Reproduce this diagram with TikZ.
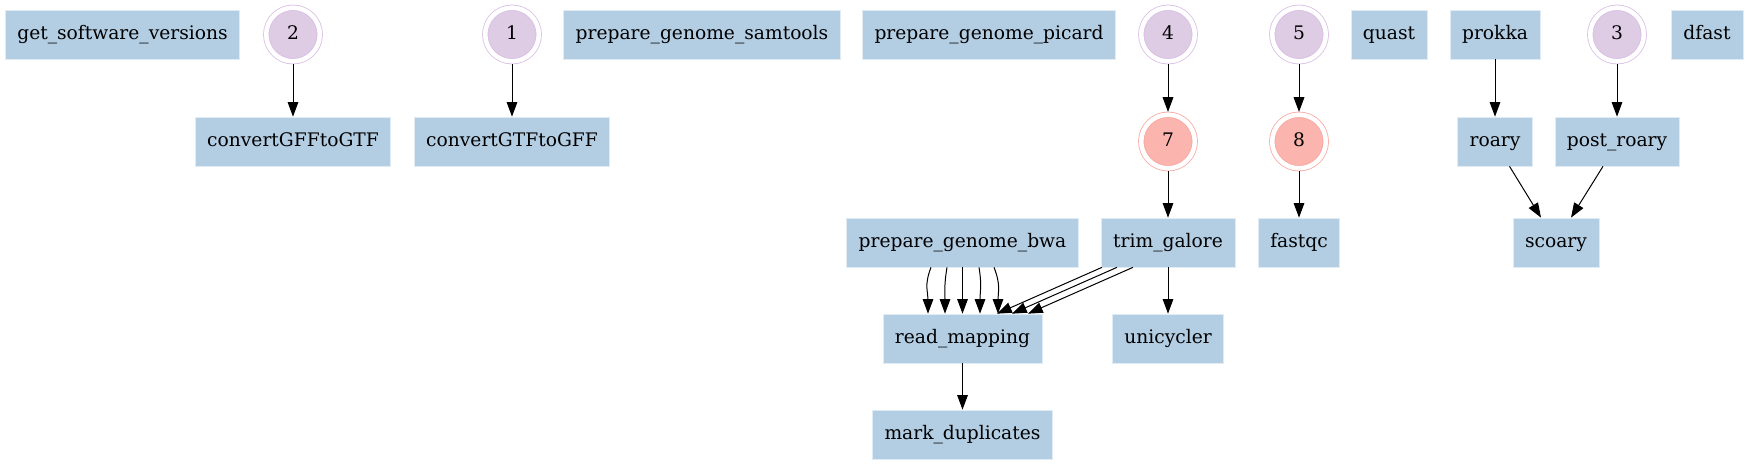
\documentclass[tikz,border=0pt]{standalone}
\usepackage{fontspec}
\setmainfont{DejaVu Serif}
\usetikzlibrary{arrows.meta,calc}
\definecolor{procfill}{HTML}{B3CDE3}
\definecolor{chanfill}{HTML}{DECBE4}
\definecolor{chanline}{HTML}{DABDE4}
\definecolor{resfill}{HTML}{FBB4AE}
\definecolor{resline}{HTML}{F8A9A1}

\begin{document}
\begin{tikzpicture}[x=0.75pt, y=-0.75pt, font=\fontsize{14}{16}\selectfont,
          proc/.style={draw=procfill!40!white, line width=0.5pt, fill=procfill,
                       minimum height=36.75pt, minimum width=54pt,
                       inner xsep=9pt, inner ysep=0pt, text height=11pt, text depth=2.8pt},
          chan/.style={circle, fill=chanfill, draw=chanline, double=white,
                       double distance=3.4pt, line width=0.6pt, text height=11pt, text depth=2.8pt,
                       minimum size=40.2pt, inner sep=0pt, outer sep=2.1pt},
          result/.style={chan, fill=resfill, draw=resline},
          arr/.style={-{Triangle[length=11pt, width=8pt]}, line width=0.75pt}]
        \useasboundingbox (0,0) rectangle (1748,464);
        % top row: processes and input channels
        \node[proc] (versions) at (122.5,34.5) {get\_software\_versions};
        \node[chan] (c2) at (293,34.5) {2};
        \node[chan] (c1) at (512,34.5) {1};
        \node[proc] (samtools) at (702,34.5) {prepare\_genome\_samtools};
        \node[proc] (picard) at (989,34.5) {prepare\_genome\_picard};
        \node[chan] (c4) at (1168,34.5) {4};
        \node[chan] (c5) at (1299,34.5) {5};
        \node[proc] (quast) at (1389,34.5) {quast};
        \node[proc] (prokka) at (1495,34.5) {prokka};
        \node[chan] (c3) at (1617,34.5) {3};
        \node[proc] (dfast) at (1707,34.5) {dfast};
        % second row
        \node[proc] (gff2gtf) at (293,141.5) {convertGFFtoGTF};
        \node[proc] (gtf2gff) at (512,141.5) {convertGTFtoGFF};
        \node[result] (c7) at (1168,141.5) {7};
        \node[result] (c8) at (1299,141.5) {8};
        \node[proc] (roary) at (1495,141.5) {roary};
        \node[proc] (postroary) at (1617,141.5) {post\_roary};
        % third row
        \node[proc] (bwa) at (962.5,242.5) {prepare\_genome\_bwa};
        \node[proc] (trim) at (1168,242.5) {trim\_galore};
        \node[proc] (fastqc) at (1299,242.5) {fastqc};
        \node[proc] (scoary) at (1556,242.5) {scoary};
        % mapping branch
        \node[proc] (mapping) at (962.5,338.5) {read\_mapping};
        \node[proc] (unicycler) at (1168,338.5) {unicycler};
        \node[proc] (markdup) at (962.5,434.5) {mark\_duplicates};
        % single straight links
        \foreach \a/\b in {c2/gff2gtf, c1/gtf2gff, c4/c7, c7/trim, c5/c8, c8/fastqc,
                           prokka/roary, c3/postroary, trim/unicycler, mapping/markdup}
          \draw[arr] (\a) -- (\b);
        % five bwa outputs feed read_mapping
        \foreach \s/\t/\c in {-31.5/-34.5/-7, -15.5/-17.5/-3, 0/0/0, 16.5/17.5/3, 31.5/35.5/7}
          \draw[arr] ($(bwa.south)+(\s,0)$) .. controls +(\c,18) and +(0,-22) .. ($(mapping.north)+(\t,0)$);
        % three trimmed read channels
        \foreach \s/\t in {-66/34.5, -51/49.5, -35/65.5}
          \draw[arr] ($(trim.south)+(\s,0)$) -- ($(mapping.north)+(\t,0)$);
        % pangenome merge
        \draw[arr] ($(roary.south)+(14.5,0)$) -- ($(scoary.north)+(-15,0)$);
        \draw[arr] ($(postroary.south)+(-14,0)$) -- ($(scoary.north)+(15,0)$);
      \end{tikzpicture}
\end{document}
